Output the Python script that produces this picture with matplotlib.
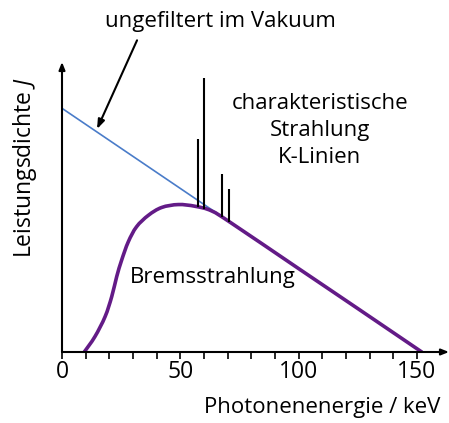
import numpy as np
import matplotlib
matplotlib.use("Agg")
import matplotlib.pyplot as plt
from matplotlib.path import Path
from matplotlib.patches import PathPatch

plt.rcParams['font.family'] = ['Open Sans', 'DejaVu Sans']
plt.rcParams['mathtext.fontset'] = 'custom'
plt.rcParams['mathtext.it'] = 'Open Sans:italic'
plt.rcParams['mathtext.rm'] = 'Open Sans'

# Unfiltered spectrum (straight line)
unfilt_x = [0, 152]
unfilt_y = [1.0, 0.0]

# Bremsstrahlung curve
brems_x = [9.4, 13.9, 18.2, 21.0, 23.1, 25.2, 28.0, 31.5, 36.5, 42.1, 49.1,
           56.2, 63.2, 71.7, 100, 125, 152]
brems_y = [0.0, 0.063, 0.145, 0.227, 0.309, 0.377, 0.452, 0.514, 0.561, 0.593,
           0.605, 0.598, 0.579, 0.528, 0.342, 0.178, 0.0]

# Characteristic K lines
kline_x = [57.3, 59.9, 67.5, 70.6]
kline_top = [0.873, 1.126, 0.732, 0.667]

xticks_major = [0, 50, 100, 150]
xticks_minor = [10, 20, 30, 40, 60, 70, 80, 90, 110, 120, 130, 140]

fig = plt.figure(figsize=(4.49, 4.23), dpi=100)
ax = fig.add_axes([62/449, (423-352)/423, (449-62)/449, 290/423])
ax.set_xlim(0, 163.5)
ax.set_ylim(0, 1.19)

purple = '#631b87'
blue = '#4a7cc9'

ax.plot(unfilt_x, unfilt_y, color=blue, lw=1.2, solid_capstyle='butt', zorder=2)


def smooth_path(xs, ys):
    """Catmull-Rom through the points, expressed as cubic Bezier path."""
    P = np.column_stack([xs, ys]).astype(float)
    verts = [P[0]]
    codes = [Path.MOVETO]
    n = len(P)
    for i in range(n - 1):
        p0 = P[i - 1] if i > 0 else P[i]
        p1 = P[i]
        p2 = P[i + 1]
        p3 = P[i + 2] if i + 2 < n else P[i + 1]
        c1 = p1 + (p2 - p0) / 6.0
        c2 = p2 - (p3 - p1) / 6.0
        verts += [c1, c2, p2]
        codes += [Path.CURVE4] * 3
    return Path(verts, codes)


ax.add_patch(PathPatch(smooth_path(brems_x, brems_y), facecolor='none',
                       edgecolor=purple, lw=2.6, capstyle='round',
                       joinstyle='round', zorder=3))
kline_bottom = np.interp(kline_x, brems_x, brems_y)
ax.vlines(kline_x, kline_bottom, kline_top, color='black', lw=1.5, zorder=4)

for s in ax.spines.values():
    s.set_visible(False)

# axes with arrows
ax.annotate('', xy=(1.0, 0), xytext=(0, 0), xycoords='axes fraction',
            arrowprops=dict(arrowstyle='-|>,head_length=0.45,head_width=0.18',
                            color='black', lw=1.5, shrinkA=0, shrinkB=0),
            annotation_clip=False)
ax.annotate('', xy=(0, 1.0), xytext=(0, 0), xycoords='axes fraction',
            arrowprops=dict(arrowstyle='-|>,head_length=0.45,head_width=0.18',
                            color='black', lw=1.5, shrinkA=0, shrinkB=0),
            annotation_clip=False)

ax.set_xticks(xticks_major)
ax.set_xticks(xticks_minor, minor=True)
ax.tick_params(axis='x', which='both', direction='out', length=5, width=1.2,
               labelsize=16.5, pad=1)
ax.set_yticks([])

ax.text(0.977, -0.19, 'Photonenenergie / keV', transform=ax.transAxes,
        ha='right', va='center', fontsize=16)
fig.text(25/449, 1 - 167/423, 'Leistungsdichte $J$', rotation=90,
         ha='center', va='center', fontsize=16.5)

ax.text(109, 0.91, 'charakteristische\nStrahlung\nK-Linien', ha='center',
        va='center', fontsize=16, linespacing=1.38)
ax.text(63.8, 0.307, 'Bremsstrahlung', ha='center', va='center', fontsize=16)

fig.text(220/449, 1 - 21/423, 'ungefiltert im Vakuum', ha='center',
         va='center', fontsize=16)
ax.annotate('', xy=(14.8, 0.915), xytext=(31.7, 1.279), xycoords='data',
            arrowprops=dict(arrowstyle='-|>,head_length=0.55,head_width=0.2',
                            color='black', lw=1.5, shrinkA=0, shrinkB=0),
            annotation_clip=False)

fig.savefig('out.png', dpi=100)
